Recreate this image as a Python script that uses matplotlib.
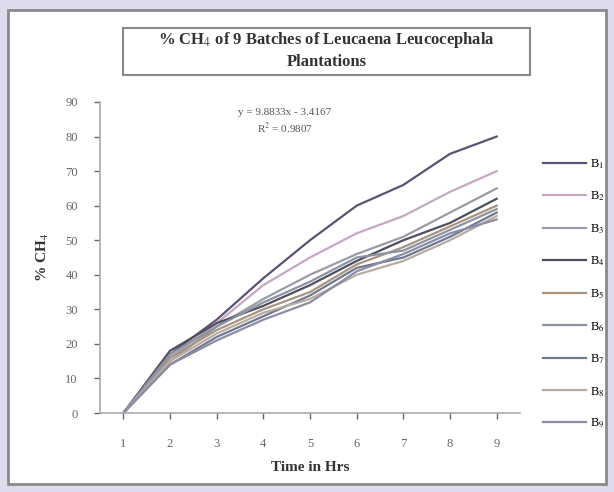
import matplotlib
matplotlib.use('Agg')
import matplotlib.pyplot as plt
from matplotlib.patches import Rectangle
import numpy as np

plt.rcParams['font.family'] = ['Liberation Serif', 'DejaVu Serif']
plt.rcParams['mathtext.fontset'] = 'stix'

# % CH4 per batch, sampled hourly
hours = [1, 2, 3, 4, 5, 6, 7, 8, 9]
b1 = [0, 17, 27, 39, 50, 60, 66, 75, 80]
b2 = [0, 16, 26, 37, 45, 52, 57, 64, 70]
b3 = [0, 15, 25, 33, 40, 46, 51, 58, 65]
b4 = [0, 18, 26, 31, 37, 44, 50, 55, 62]
b5 = [0, 16, 24, 30, 35, 43, 48, 54, 60]
b6 = [0, 17, 25, 32, 38, 45, 47, 53, 59]
b7 = [0, 14, 22, 28, 34, 42, 45, 51, 58]
b8 = [0, 15, 23, 29, 33, 40, 44, 50, 57]
b9 = [0, 14, 21, 27, 32, 41, 46, 52, 56]

batches = [b1, b2, b3, b4, b5, b6, b7, b8, b9]
names = ['B$_{%d}$' % (i + 1) for i in range(9)]
colors = ['#5c5274', '#c4a8c4', '#9a9aa8', '#4e4e5e', '#a8947e',
          '#8a92a4', '#6e7890', '#b8aca0', '#8c8ca6']

fig = plt.figure(figsize=(6.14, 4.92), dpi=100)
fig.patch.set_facecolor('#dcdcec')

W, H = 614, 492

# white chart frame
fig.patches.append(Rectangle((8 / W, 1 - 484 / H), 598 / W, 474 / H,
                             transform=fig.transFigure, facecolor='white',
                             edgecolor='#8a8a8a', linewidth=2, zorder=0))

# title box
fig.patches.append(Rectangle((123 / W, 1 - 75 / H), 407 / W, 47 / H,
                             transform=fig.transFigure, facecolor='white',
                             edgecolor='#8a8a8a', linewidth=1.5, zorder=1))
fig.text(326.5 / W, 1 - 40 / H, '% CH$_4$ of 9 Batches of Leucaena Leucocephala',
         ha='center', va='center', fontsize=12, fontweight='bold', color='#333333', zorder=3)
fig.text(326.5 / W, 1 - 62 / H, 'Plantations', ha='center', va='center',
         fontsize=12, fontweight='bold', color='#333333', zorder=3)

ax = fig.add_axes([100 / W, 1 - 413 / H, 420 / W, 311 / H])
ax.set_zorder(2)
ax.set_facecolor('none')

for vals, name, c in zip(batches, names, colors):
    ax.plot(hours, vals, color=c, linewidth=1.6, label=name)

# linear fit for the first batch
a, b = np.polyfit(hours, b1, 1)
fit = np.polyval([a, b], hours)
r2 = 1 - np.sum((np.array(b1) - fit) ** 2) / np.sum((np.array(b1) - np.mean(b1)) ** 2)
ax.text(0.44, 0.965, 'y = %.4fx - %.4f' % (a, abs(b)), transform=ax.transAxes,
        ha='center', va='center', fontsize=8, color='#555555')
ax.text(0.44, 0.915, 'R$^2$ = %.4f' % r2, transform=ax.transAxes,
        ha='center', va='center', fontsize=8, color='#555555')

ax.set_xlim(0.5, 9.5)
ax.set_ylim(0, 90)
ax.set_xticks(hours)
ax.set_yticks(range(0, 91, 10))
ax.tick_params(axis='both', labelsize=9, colors='#666666', length=4, width=1)
ax.tick_params(axis='x', pad=14)
ax.tick_params(axis='y', pad=12)
for s in ['top', 'right']:
    ax.spines[s].set_visible(False)
for s in ['left', 'bottom']:
    ax.spines[s].set_color('#aaaaaa')
    ax.spines[s].set_linewidth(1.2)

ax.set_xlabel('Time in Hrs', fontsize=11, fontweight='bold', color='#333333', labelpad=8)
ax.set_ylabel('% CH$_4$', fontsize=11, fontweight='bold', color='#333333', labelpad=10)

ax.legend(loc='upper left', bbox_to_anchor=(538 / W, 1 - 152 / H),
          bbox_transform=fig.transFigure, frameon=False, fontsize=9,
          handlelength=3.4, handletextpad=0.4, labelspacing=1.5, borderaxespad=0)

fig.savefig('out.png', dpi=100, facecolor=fig.get_facecolor())
